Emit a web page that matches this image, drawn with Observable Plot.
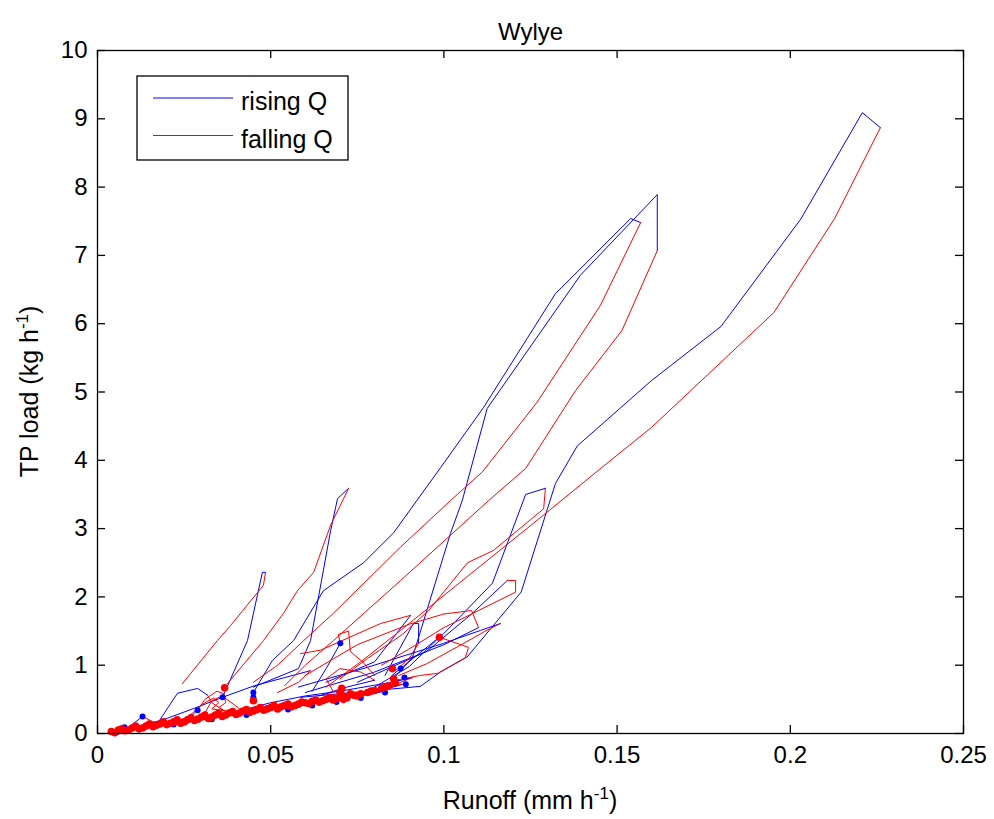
<!DOCTYPE html>
<html>
<head>
<meta charset="utf-8">
<script src="https://cdn.jsdelivr.net/npm/d3@7"></script>
<script src="https://cdn.jsdelivr.net/npm/@observablehq/plot@0.6"></script>
<style>
  html, body { margin: 0; padding: 0; background: #fff; }
  svg { display: block; }
</style>
</head>
<body>
<div id="chart"></div>
<script>
// ---- axis ticks ----
const xTicks = [0, 0.05, 0.1, 0.15, 0.2, 0.25];
const yTicks = [0, 1, 2, 3, 4, 5, 6, 7, 8, 9, 10];
const titleText = "Wylye";
const legendLabels = ["rising Q", "falling Q"];

// ---- storm events: [runoff, TP load] (rising limb = blue, falling limb = red) ----
const eventA_rise = [[0.0586,0.53],[0.0932,0.69],[0.099,0.90],[0.1067,1.12],[0.1223,2.07],[0.1322,3.66],[0.1385,4.21],[0.160,5.17],[0.180,5.96],[0.203,7.53],[0.2208,9.09],[0.226,8.87]];
const eventA_fall = [[0.226,8.87],[0.2128,7.54],[0.1952,6.16],[0.1599,4.48],[0.145,3.87],[0.1298,3.24],[0.0875,1.51],[0.076,1.05],[0.066,0.68]];

const eventB1_rise = [[0.045,0.60],[0.0505,1.07],[0.0566,1.36],[0.0652,2.09],[0.0768,2.50],[0.0855,2.94],[0.0990,3.89],[0.1114,4.77],[0.1322,6.44],[0.1539,7.54],[0.1568,7.48]];
const eventB1_fall = [[0.1568,7.48],[0.1452,6.27],[0.1269,4.85],[0.1111,3.83],[0.1019,3.41],[0.0875,2.73],[0.0681,1.76],[0.0595,1.36],[0.052,1.0],[0.045,0.75]];

const eventB2_rise = [[0.085,0.78],[0.0909,1.11],[0.1019,2.93],[0.1053,3.41],[0.1125,4.76],[0.1394,6.71],[0.1616,7.89],[0.1616,7.07]];
const eventB2_fall = [[0.1616,7.07],[0.1514,5.90],[0.138,5.02],[0.1236,3.88],[0.1129,3.41],[0.0875,2.24],[0.0681,1.36],[0.060,1.0],[0.054,0.7]];

const eventC_rise = [[0.045,0.68],[0.058,0.95],[0.0615,1.36],[0.0673,2.97],[0.0693,3.44],[0.0725,3.59]];
const eventC_fall = [[0.0725,3.59],[0.0673,3.05],[0.0624,2.36],[0.0577,2.09],[0.0537,1.76],[0.0479,1.36],[0.0375,0.73]];

const eventD_rise = [[0.0361,0.53],[0.0433,1.36],[0.0476,2.36],[0.0485,2.36]];
const eventD_fall = [[0.0485,2.36],[0.0479,2.17],[0.0384,1.58],[0.0346,1.36],[0.0245,0.73]];

const eventE_rise = [[0.075,0.75],[0.095,1.2],[0.108,1.75],[0.1183,2.24]];
const eventE_fall = [[0.1183,2.24],[0.1207,2.24],[0.1207,2.07],[0.110,1.8],[0.100,1.55],[0.092,1.3],[0.082,1.0]];

const eventF_rise = [[0.085,0.85],[0.0999,1.46],[0.114,2.20],[0.1236,3.50],[0.1293,3.59]];
const eventF_fall = [[0.1293,3.59],[0.1288,3.29],[0.1143,2.68],[0.1068,2.50],[0.0956,1.80],[0.088,1.45],[0.078,1.1],[0.070,0.8]];

const eventG_rise = [[0.078,0.62],[0.090,0.98],[0.0987,1.41]];
const eventG_fall = [[0.0987,1.41],[0.1071,1.26],[0.1062,1.11],[0.0982,0.88],[0.0932,0.85],[0.086,0.78]];

const eventH_rise = [[0.066,0.75],[0.080,1.05],[0.0904,1.73]];
const eventH_fall = [[0.0904,1.73],[0.0817,1.61],[0.0644,1.22],[0.0586,1.17]];

const eventJ_rise = [[0.083,0.85],[0.0912,1.61],[0.0927,1.61],[0.0927,1.32]];
const eventJ_fall = [[0.0927,1.32],[0.090,1.1],[0.086,0.92]];

const eventK_rise = [[0.062,0.62],[0.066,0.95],[0.0701,1.32]];
const eventK_fall = [[0.0701,1.32],[0.0695,1.45],[0.0725,1.5],[0.073,1.2],[0.0765,1.05],[0.080,0.85]];

const eventL_rise = [[0.058,0.68],[0.078,0.97],[0.0999,1.32],[0.1106,1.51],[0.1163,1.61]];
const eventL_fall = [[0.1163,1.61],[0.112,1.5],[0.105,1.3],[0.095,1.02],[0.087,0.85]];

const eventM_rise = [[0.060,0.6],[0.080,0.9],[0.100,1.3],[0.110,1.55]];
const eventM_fall = [[0.110,1.55],[0.108,1.8],[0.100,1.75],[0.090,1.6],[0.075,1.3],[0.060,0.85]];

const eventN_rise = [[0.064,0.55],[0.072,0.68],[0.080,0.78]];
const eventN_fall = [[0.080,0.78],[0.076,0.9],[0.070,0.95],[0.066,0.8],[0.068,0.62]];

const eventS1_rise = [[0.004,0.03],[0.009,0.09],[0.013,0.25]];
const eventS1_fall = [[0.013,0.25],[0.016,0.17],[0.020,0.15]];

const eventS2_rise = [[0.012,0.10],[0.020,0.22],[0.028,0.37],[0.0361,0.53],[0.0453,0.70],[0.0615,0.92]];
const eventS2_fall = [[0.0615,0.92],[0.058,0.75],[0.052,0.6]];

const eventS3_rise = [[0.018,0.20],[0.0231,0.59],[0.0289,0.66],[0.0318,0.56]];
const eventS3_fall = [[0.0318,0.56],[0.033,0.45],[0.036,0.35]];

const eventR1_rise = [[0.027,0.25],[0.029,0.35]];
const eventR1_fall = [[0.029,0.35],[0.031,0.50],[0.0345,0.62],[0.0365,0.58],[0.037,0.45],[0.035,0.38],[0.038,0.30]];
const eventR2_rise = [[0.029,0.24],[0.031,0.30]];
const eventR2_fall = [[0.031,0.30],[0.033,0.48],[0.036,0.55],[0.040,0.40],[0.042,0.32]];
const eventR3_rise = [[0.025,0.22],[0.027,0.28]];
const eventR3_fall = [[0.027,0.28],[0.030,0.42],[0.0335,0.52],[0.035,0.45],[0.033,0.36],[0.037,0.33]];

const eventS5_rise = [[0.040,0.32],[0.050,0.45],[0.060,0.55],[0.070,0.62],[0.085,0.75],[0.091,0.82]];
const eventS5_fall = [[0.091,0.82],[0.085,0.70],[0.075,0.58]];

// baseline (small) events along the lower band
const band1_rise = [[0.003,0.01],[0.010,0.06],[0.020,0.13],[0.030,0.20],[0.040,0.28],[0.050,0.35],[0.060,0.42],[0.070,0.50],[0.080,0.60],[0.088,0.72]];
const band1_fall = [[0.088,0.72],[0.080,0.64],[0.070,0.55],[0.060,0.47],[0.050,0.39],[0.040,0.32],[0.030,0.24],[0.020,0.17],[0.010,0.09],[0.004,0.04]];
const band2_rise = [[0.005,0.02],[0.015,0.09],[0.025,0.17],[0.035,0.24],[0.045,0.31],[0.055,0.39],[0.065,0.46],[0.075,0.54],[0.083,0.62]];
const band2_fall = [[0.083,0.62],[0.076,0.58],[0.066,0.50],[0.056,0.42],[0.046,0.35],[0.036,0.28],[0.026,0.21],[0.016,0.13],[0.006,0.05]];

// start markers
const blueDots = [[0.0078,0.09],[0.013,0.25],[0.0289,0.34],[0.0361,0.53],[0.045,0.60],[0.045,0.53],[0.0701,1.32],[0.0875,0.95],[0.0886,0.82],
  [0.006,0.03],[0.012,0.06],[0.022,0.13],[0.033,0.21],[0.043,0.27],[0.055,0.35],[0.062,0.41],[0.069,0.46],[0.076,0.52],[0.083,0.60],[0.089,0.72]];
const redDots = [[0.0367,0.67],[0.045,0.48],[0.0987,1.41],[0.0851,0.95],[0.0855,0.80],[0.070,0.60],[0.071,0.55],[0.068,0.52],[0.0705,0.66],[0.073,0.58],
  [0.004,0.03],[0.006,0.05],[0.008,0.04],[0.010,0.08],[0.012,0.07],[0.014,0.11],[0.016,0.10],[0.018,0.14],[0.020,0.13],[0.022,0.17],[0.024,0.15],[0.026,0.20],[0.028,0.19],[0.030,0.24],[0.032,0.22],[0.034,0.27],[0.036,0.25],[0.038,0.30],[0.040,0.28],[0.042,0.33],[0.044,0.31],[0.046,0.35],[0.048,0.34],[0.050,0.38],[0.052,0.36],[0.054,0.41],[0.056,0.39],[0.058,0.43],[0.060,0.45],[0.062,0.47],[0.064,0.46],[0.066,0.50],[0.068,0.49],[0.072,0.52],[0.074,0.56],[0.076,0.58],[0.078,0.60],[0.080,0.63],[0.082,0.66],[0.084,0.70],[0.086,0.74],
  [0.005,0.01],[0.007,0.07],[0.009,0.05],[0.011,0.11],[0.013,0.08],[0.015,0.14],[0.017,0.12],[0.019,0.17],[0.021,0.15],[0.023,0.20],[0.025,0.17],[0.027,0.23],[0.029,0.21],[0.031,0.27],[0.033,0.24],[0.035,0.30],[0.037,0.27],[0.039,0.32],[0.041,0.30],[0.043,0.35],[0.045,0.33],[0.047,0.38],[0.049,0.36],[0.051,0.41],[0.053,0.39],[0.055,0.43],[0.057,0.41],[0.059,0.46],[0.061,0.44],[0.063,0.49],[0.065,0.48],[0.067,0.53],[0.069,0.51],[0.071,0.50],[0.075,0.55],[0.079,0.62],[0.083,0.68]];

// ---- build tables ----
const risingEvents = {A: eventA_rise, B1: eventB1_rise, B2: eventB2_rise, C: eventC_rise, D: eventD_rise, E: eventE_rise, F: eventF_rise, G: eventG_rise, H: eventH_rise, J: eventJ_rise, K: eventK_rise, L: eventL_rise, M: eventM_rise, N: eventN_rise, S1: eventS1_rise, S2: eventS2_rise, S3: eventS3_rise, R1: eventR1_rise, R2: eventR2_rise, R3: eventR3_rise, S5: eventS5_rise, b1: band1_rise, b2: band2_rise};
const fallingEvents = {A: eventA_fall, B1: eventB1_fall, B2: eventB2_fall, C: eventC_fall, D: eventD_fall, E: eventE_fall, F: eventF_fall, G: eventG_fall, H: eventH_fall, J: eventJ_fall, K: eventK_fall, L: eventL_fall, M: eventM_fall, N: eventN_fall, S1: eventS1_fall, S2: eventS2_fall, S3: eventS3_fall, R1: eventR1_fall, R2: eventR2_fall, R3: eventR3_fall, S5: eventS5_fall, b1: band1_fall, b2: band2_fall};
const toRows = (obj) => Object.entries(obj).flatMap(([ev, pts]) => pts.map(([x, y]) => ({event: ev, x, y})));
const risingRows = toRows(risingEvents);
const fallingRows = toRows(fallingEvents);
const blueDotRows = blueDots.map(([x, y]) => ({x, y}));
const redDotRows = redDots.map(([x, y]) => ({x, y}));

const W = 994, H = 819, mL = 97, mR = 31, mT = 50, mB = 86;
const pw = W - mL - mR, ph = H - mT - mB, tick = 8;
const FONT = "'Liberation Sans', Arial, Helvetica, sans-serif";

const chart = Plot.plot({
  width: W, height: H,
  marginLeft: mL, marginRight: mR, marginTop: mT, marginBottom: mB,
  x: {domain: [0, 0.25]},
  y: {domain: [0, 10]},
  style: {fontFamily: FONT, fontSize: "24px", background: "white", color: "black"},
  marks: [
    Plot.line(risingRows, {x: "x", y: "y", z: "event", stroke: "#0000ff", strokeWidth: 1}),
    Plot.line(fallingRows, {x: "x", y: "y", z: "event", stroke: "#ff0000", strokeWidth: 1}),
    Plot.dot(blueDotRows, {x: "x", y: "y", r: 3, fill: "#0000ff", stroke: "none"}),
    Plot.dot(redDotRows, {x: "x", y: "y", r: 3.8, fill: "#ff0000", stroke: "none"}),
    Plot.frame({stroke: "black", strokeWidth: 1.3}),
    Plot.tickX(xTicks, {x: d => d, insetTop: ph - tick, stroke: "black", strokeWidth: 1.3}),
    Plot.tickX(xTicks, {x: d => d, insetBottom: ph - tick, stroke: "black", strokeWidth: 1.3}),
    Plot.tickY(yTicks, {y: d => d, insetRight: pw - tick, stroke: "black", strokeWidth: 1.3}),
    Plot.tickY(yTicks, {y: d => d, insetLeft: pw - tick, stroke: "black", strokeWidth: 1.3}),
    Plot.axisX({ticks: xTicks, tickSize: 0, tickPadding: 12, tickFormat: d => String(d), label: null, fontSize: 24}),
    Plot.axisY({ticks: yTicks, tickSize: 0, tickPadding: 10, tickFormat: d => String(d), label: null, fontSize: 24}),
    Plot.text([titleText], {frameAnchor: "top", dy: -28, fontSize: 24, fill: "black"})
  ]
});

const svg = d3.select(chart);
// axis labels with superscripts
const xl = svg.append("text").attr("x", mL + pw / 2).attr("y", 809).attr("text-anchor", "middle")
  .attr("font-family", FONT).attr("font-size", 25).attr("fill", "black");
xl.append("tspan").text("Runoff (mm h");
xl.append("tspan").attr("dy", -10).attr("font-size", 17).text("-1");
xl.append("tspan").attr("dy", 10).text(")");

const yl = svg.append("text").attr("transform", `translate(38,${mT + ph / 2}) rotate(-90)`).attr("text-anchor", "middle")
  .attr("font-family", FONT).attr("font-size", 25).attr("fill", "black");
yl.append("tspan").text("TP load (kg h");
yl.append("tspan").attr("dy", -10).attr("font-size", 17).text("-1");
yl.append("tspan").attr("dy", 10).text(")");

// legend
const lg = svg.append("g").attr("font-family", FONT).attr("font-size", 25).attr("text-anchor", "start");
lg.append("rect").attr("x", 137).attr("y", 76).attr("width", 211).attr("height", 84)
  .attr("fill", "white").attr("stroke", "black").attr("stroke-width", 1.3);
const legendColors = ["#0000ff", "#ff0000"];
legendLabels.forEach((lab, i) => {
  const yy = 98 + i * 37.5;
  lg.append("line").attr("x1", 153).attr("x2", 233).attr("y1", yy).attr("y2", yy)
    .attr("stroke", legendColors[i]).attr("stroke-width", 1);
  lg.append("text").attr("x", 241).attr("y", yy + 12).attr("text-anchor", "start").attr("fill", "black").text(lab);
});

document.getElementById("chart").appendChild(chart);
</script>
</body>
</html>
